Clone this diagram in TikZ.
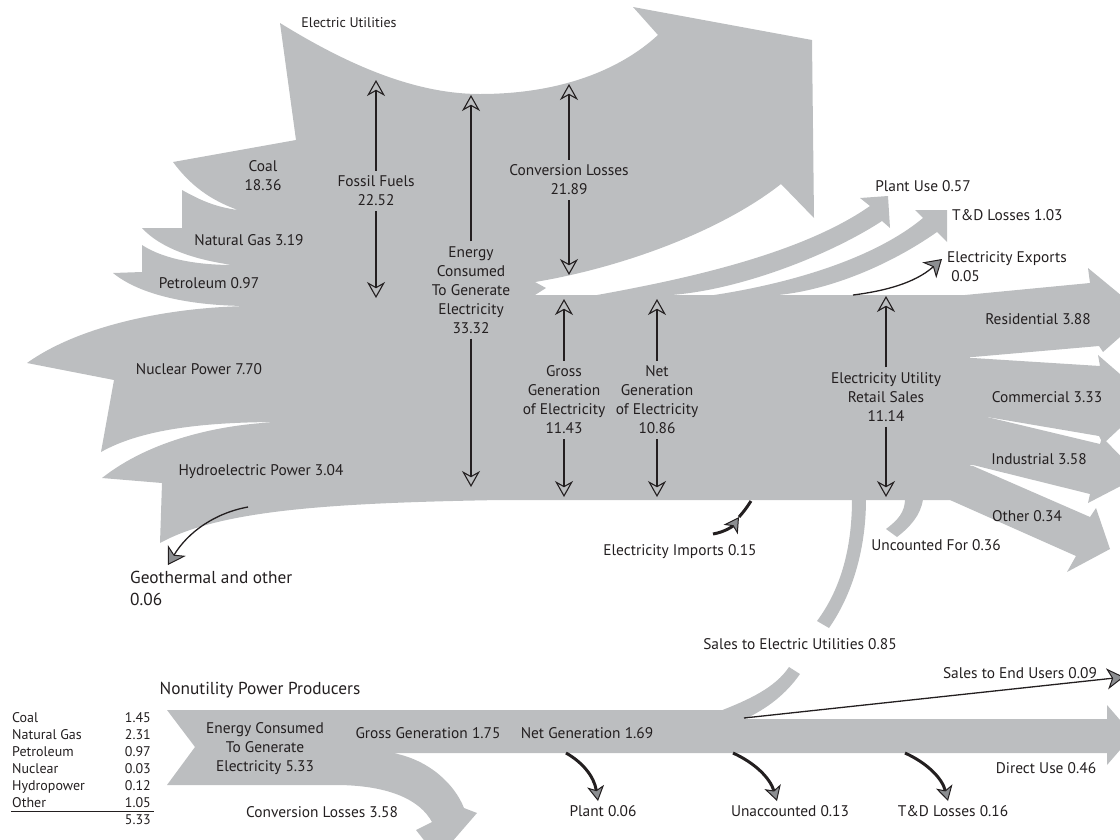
\documentclass[tikz,border=0pt]{standalone}
\usepackage{fontspec}
\setmainfont{PT Sans}
\usetikzlibrary{arrows.meta}
\definecolor{flow}{RGB}{188,190,192}
\definecolor{ink}{RGB}{35,31,32}
\definecolor{tipgray}{RGB}{140,142,145}
\tikzset{
  lab/.style={font=\fontsize{15.4}{19}\selectfont, text=ink, inner sep=0pt, align=center},
  ttl/.style={font=\fontsize{17.3}{22}\selectfont, text=ink, inner sep=0pt},
  tab/.style={font=\fontsize{14}{17}\selectfont, text=ink, inner sep=0pt},
  dbl/.style={draw=ink, line width=1.1pt, shorten <=5pt, -{Stealth[open, length=16pt, width=18pt, inset=5pt]}},
  pointer/.style={draw=ink, line width=1.3pt, -{Stealth[length=17pt, width=21pt, inset=5pt, fill=tipgray, line width=1pt]}},
  heavy/.style={draw=ink, line width=3pt, -{Stealth[length=15pt, width=17pt, inset=4pt, fill=tipgray, line width=1pt]}},
  heavyline/.style={draw=ink, line width=3pt},
}
\begin{document}
\begin{tikzpicture}[x=1pt,y=-1pt]
\useasboundingbox (0,0) rectangle (1120,839);
\clip (0,0) rectangle (1120,839);

% ---- Electric utilities: inputs, conversion losses and trunk ----
\fill[flow] (280,23)
  .. controls (340,60) and (410,94) .. (480,94)
  .. controls (560,94) and (620,70) .. (658,35)
  -- (633,7) -- (812,40) -- (814,218) -- (781,184)
  .. controls (720,232) and (620,268) .. (535,282)
  -- (546,288) -- (535,295)
  -- (970,295) -- (970,500) -- (500,500)
  .. controls (330,503) and (220,510) .. (160,543)
  -- (162,483) -- (102,478)
  .. controls (150,440) and (220,424) .. (280,422)
  .. controls (200,422) and (140,430) .. (101,452)
  -- (114,380) -- (27,363)
  .. controls (80,325) and (170,307) .. (250,306)
  .. controls (190,306) and (140,295) .. (113,273)
  -- (142,272) -- (142,245)
  .. controls (165,260) and (200,265) .. (233,265)
  .. controls (195,260) and (160,248) .. (142,228)
  -- (182,228) -- (182,190)
  .. controls (200,200) and (215,207) .. (238,210)
  .. controls (210,200) and (190,185) .. (173,162)
  -- (296,140) -- cycle;

% plant use band
\fill[flow] (597,295) .. controls (680,280) and (800,255) .. (870,206)
  -- (860,198) -- (888,196) -- (890,228) -- (882,221)
  .. controls (830,255) and (740,290) .. (671,295) -- cycle;
% T&D losses band
\fill[flow] (714,295) .. controls (780,285) and (870,262) .. (923,218)
  -- (915,210) -- (947,210) -- (947,242) -- (937,232)
  .. controls (890,265) and (830,290) .. (778,295) -- cycle;

% end-use arrows
\fill[flow] (965,295) -- (1090,283) -- (1088,268) -- (1145,315) -- (1103,352)
  -- (1099,346) -- (973,357) -- (965,357) -- cycle;
\fill[flow] (965,358) -- (973,358) -- (1100,366) -- (1098,355) -- (1150,400)
  -- (1103,444) -- (1099,436) -- (987,417) -- (965,417) -- cycle;
\fill[flow] (965,417) -- (987,417) -- (1100,444) -- (1102,437) -- (1140,476)
  -- (1088,503) -- (1090,494) -- (973,465) -- (965,465) -- cycle;
\fill[flow] (965,465) -- (973,466) -- (1090,517) -- (1096,508) -- (1110,549)
  -- (1067,572) -- (1076,556) -- (950,500) -- cycle;

% uncounted for
\fill[flow] (905,499) .. controls (905,512) and (898,520) .. (886,529)
  -- (897,537) .. controls (910,527) and (921,515) .. (923,499) -- cycle;
% sales to electric utilities (upper and lower pieces)
\fill[flow] (852,499) .. controls (852,550) and (840,590) .. (817,621)
  -- (829,628) .. controls (852,595) and (866,550) .. (866,499) -- cycle;
\fill[flow] (720,711) .. controls (748,700) and (775,688) .. (789,667)
  -- (800,674) .. controls (786,694) and (768,708) .. (745,719) -- cycle;

% ---- Nonutility power producers ----
\fill[flow] (167,710) -- (745,710) -- (745,719) -- (1107,719) -- (1107,705)
  -- (1133,735) -- (1107,765) -- (1107,753) -- (393,753)
  .. controls (430,760) and (455,785) .. (464,808)
  -- (477,813) -- (438,858) -- (416,830) -- (432,822)
  .. controls (420,800) and (390,786) .. (340,785)
  -- (167,785) -- (195,747) -- cycle;

% ---- labels, upper part ----
\node[lab, font=\fontsize{14}{17}\selectfont] (eutitle) at (349,23) {Electric Utilities};
\node[lab] (coal) at (263,176) {Coal\\18.36};
\node[lab] (fossil) at (376,191) {Fossil Fuels\\22.52};
\node[lab] (conv) at (569,180) {Conversion Losses\\21.89};
\node[lab] (energy) at (471,290) {Energy\\Consumed\\To Generate\\Electricity\\33.32};
\node[lab] (gas) at (249,240) {Natural Gas 3.19};
\node[lab] (petro) at (209,283) {Petroleum 0.97};
\node[lab] (nuclear) at (199,369) {Nuclear Power 7.70};
\node[lab] (hydro) at (261,472) {Hydroelectric Power 3.04};
\node[ttl, align=left, anchor=west] (geo) at (130,588) {Geothermal and other\\0.06};
\node[lab] (gross) at (564,400) {Gross\\Generation\\of Electricity\\11.43};
\node[lab] (net) at (657,400) {Net\\Generation\\of Electricity\\10.86};
\node[lab] (retail) at (886,397) {Electricity Utility\\Retail Sales\\11.14};
\node[lab] (plantuse) at (923,186) {Plant Use 0.57};
\node[lab, anchor=west] (tdl) at (952,215) {T\&D Losses 1.03};
\node[lab, anchor=west, align=left] (exports) at (947,267) {Electricity Exports\\\ 0.05};
\node[lab] (resid) at (1038,319) {Residential 3.88};
\node[lab] (comm) at (1047,397) {Commercial 3.33};
\node[lab] (indus) at (1039,459) {Industrial 3.58};
\node[lab] (other) at (1027,516) {Other 0.34};
\node[lab] (uncounted) at (936,545) {Uncounted For 0.36};
\node[lab] (imports) at (680,552) {Electricity Imports 0.15};
\node[lab] (salesu) at (800,644) {Sales to Electric Utilities 0.85};

% ---- labels, lower part ----
\node[ttl] (nupp) at (260,690) {Nonutility Power Producers};
\node[lab] (econs) at (265,749) {Energy Consumed\\To Generate\\Electricity 5.33};
\node[lab] (ggen) at (428,733) {Gross Generation 1.75};
\node[lab] (ngen) at (587,733) {Net Generation 1.69};
\node[lab] (closs) at (322,812) {Conversion Losses 3.58};
\node[lab] (endusers) at (1020,673) {Sales to End Users 0.09};
\node[lab] (direct) at (1046,768) {Direct Use 0.46};
\node[lab] (plant) at (603,811) {Plant 0.06};
\node[lab] (unacc) at (790,811) {Unaccounted 0.13};
\node[lab] (tdlow) at (953,811) {T\&D Losses 0.16};

% ---- fuel table ----
\foreach \name/\val/\y [count=\i] in {Coal/1.45/722, Natural Gas/2.31/739, Petroleum/0.97/756, Nuclear/0.03/773, Hydropower/0.12/790, Other/1.05/807} {
  \node[tab, anchor=base west] (tn\i) at (12,\y) {\name};
  \node[tab, anchor=base east] (tv\i) at (151,\y) {\val};
}
\node[tab, anchor=base east] (ttot) at (151,824) {5.33};
\coordinate (rule-l) at (11,811);
\coordinate (rule-r) at (154,811);
\draw[ink, line width=0.9pt] (rule-l) -- (rule-r);

% ---- double-headed measuring arrows ----
\coordinate (fos-t) at (376,80);  \coordinate (fos-b) at (376,298);
\coordinate (en-t) at (471,95);   \coordinate (en-b) at (471,487);
\coordinate (cl-t) at (569,84);   \coordinate (cl-b) at (569,275);
\coordinate (gg-t) at (564,299);  \coordinate (gg-b) at (564,497);
\coordinate (ng-t) at (657,299);  \coordinate (ng-b) at (657,497);
\coordinate (rs-t) at (886,296);  \coordinate (rs-b) at (886,497);
\draw[dbl] (fossil) -- (fos-t);  \draw[dbl] (fossil) -- (fos-b);
\draw[dbl] (energy) -- (en-t);   \draw[dbl] (energy) -- (en-b);
\draw[dbl] (conv) -- (cl-t);     \draw[dbl] (conv) -- (cl-b);
\draw[dbl] (gross) -- (gg-t);    \draw[dbl] (gross) -- (gg-b);
\draw[dbl] (net) -- (ng-t);      \draw[dbl] (net) -- (ng-b);
\draw[dbl] (retail) -- (rs-t);   \draw[dbl] (retail) -- (rs-b);

% ---- pointers ----
\coordinate (geo-s) at (248,507);  \coordinate (geo-e) at (168,565);
\draw[pointer] (geo-s) .. controls (215,513) and (188,532) .. (geo-e);
\coordinate (exp-s) at (853,295);  \coordinate (exp-e) at (942,259);
\draw[pointer] (exp-s) .. controls (885,291) and (915,283) .. (exp-e);
\coordinate (eu-s) at (744,718);   \coordinate (eu-e) at (1124,677);
\draw[pointer] (eu-s) -- (eu-e);

\coordinate (imp-s) at (713,534); \coordinate (imp-m) at (739,517); \coordinate (imp-e) at (751,501);
\draw[heavy] (imp-s) .. controls (725,532) and (733,526) .. (imp-m);
\draw[heavyline] (imp-m) .. controls (745,510) .. (imp-e);

\coordinate (pl-s) at (566,753);  \coordinate (pl-e) at (598,801);
\coordinate (ua-s) at (733,753);  \coordinate (ua-e) at (777,801);
\coordinate (td-s) at (905,753);  \coordinate (td-e) at (948,801);
\draw[heavy] (pl-s) .. controls (582,762) and (594,776) .. (pl-e);
\draw[heavy] (ua-s) .. controls (755,763) and (770,778) .. (ua-e);
\draw[heavy] (td-s) .. controls (927,763) and (942,778) .. (td-e);
\end{tikzpicture}
\end{document}
